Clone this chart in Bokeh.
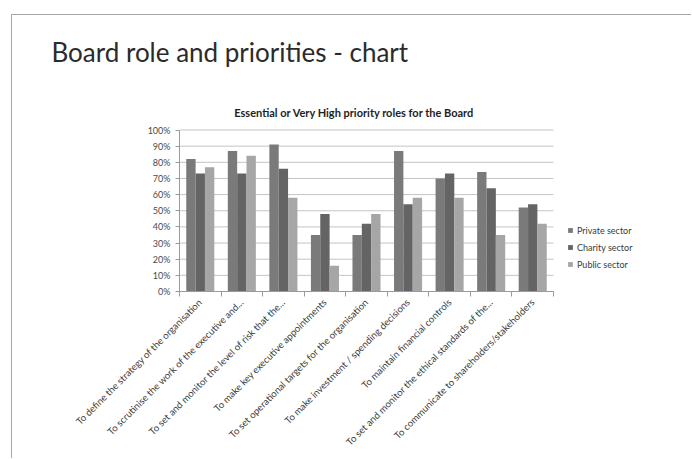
import numpy as np
from bokeh.plotting import figure
from bokeh.models import (Legend, LegendItem, NumeralTickFormatter, FixedTicker,
                          Range1d, Title, Label)
from bokeh.embed import file_html
from bokeh.resources import INLINE

# ---- data ----
categories = [
    "To define the strategy of the organisation",
    "To scrutinise the work of the executive and...",
    "To set and monitor the level of risk that the...",
    "To make key executive appointments",
    "To set operational targets for the organisation",
    "To make investment / spending decisions",
    "To maintain financial controls",
    "To set and monitor the ethical standards of the...",
    "To communicate to shareholders/stakeholders",
]
private_sector = [0.82, 0.87, 0.91, 0.35, 0.35, 0.87, 0.70, 0.74, 0.52]
charity_sector = [0.73, 0.73, 0.76, 0.48, 0.42, 0.54, 0.73, 0.64, 0.54]
public_sector = [0.77, 0.84, 0.58, 0.16, 0.48, 0.58, 0.58, 0.35, 0.42]
series_names = ["Private sector", "Charity sector", "Public sector"]
y_ticks = [0.0, 0.1, 0.2, 0.3, 0.4, 0.5, 0.6, 0.7, 0.8, 0.9, 1.0]

main_title = "Board role and priorities - chart"
chart_title = "Essential or Very High priority roles for the Board"

FONT = "Lato"
colors = ["#7a7a7a", "#646464", "#a6a6a6"]

n = len(categories)
centers = np.arange(n) + 0.5
edges = list(np.arange(n + 1).astype(float))

# frame: bars area spans 0..n horizontally; extra room on the right for the legend,
# extra room on top for the chart title
x_end = n * 513 / 374.0
y_end = 213 / 161.5

p = figure(width=680, height=444, x_range=Range1d(0, x_end), y_range=Range1d(0, y_end),
           output_backend="svg", toolbar_location=None,
           min_border_left=167, min_border_right=0,
           min_border_top=63, min_border_bottom=168)
p.margin = (14, 0, 0, 11)
p.styles = {"border-top": "1px solid #a8a8a8", "border-left": "1px solid #a8a8a8"}
p.outline_line_color = None
p.background_fill_color = "white"
p.border_fill_color = "white"

# horizontal gridlines limited to the plot area
p.xgrid.grid_line_color = None
p.ygrid.grid_line_color = None
p.segment(x0=[0] * len(y_ticks), x1=[n] * len(y_ticks), y0=y_ticks, y1=y_ticks,
          line_color="#c4c4c4", line_width=1)

bw = 0.225
renderers = []
for i, (vals, col) in enumerate(zip([private_sector, charity_sector, public_sector], colors)):
    r = p.vbar(x=centers + (i - 1) * bw, top=vals, width=bw, fill_color=col,
               line_color=None)
    renderers.append(r)

# y axis
p.yaxis.ticker = FixedTicker(ticks=y_ticks)
p.yaxis.bounds = (0, 1)
p.yaxis.formatter = NumeralTickFormatter(format="0%")
p.yaxis.major_label_text_font = FONT
p.yaxis.major_label_text_font_size = "9px"
p.yaxis.major_label_text_color = "#4a4a4a"
p.yaxis.axis_line_color = "#9a9a9a"
p.yaxis.major_tick_line_color = "#9a9a9a"
p.yaxis.major_tick_out = 4
p.yaxis.major_tick_in = 0
p.yaxis.minor_tick_line_color = None
p.yaxis.major_label_standoff = 5

# x axis
p.xaxis.ticker = FixedTicker(ticks=list(centers), minor_ticks=edges)
p.xaxis.bounds = (0, n)
p.xaxis.major_label_overrides = {float(c): lab for c, lab in zip(centers, categories)}
p.xaxis.major_label_orientation = np.pi / 4
p.xaxis.major_label_text_font = FONT
p.xaxis.major_label_text_font_size = "9.6px"
p.xaxis.major_label_text_color = "#3a3a3a"
p.xaxis.major_tick_line_color = None
p.xaxis.minor_tick_line_color = "#9a9a9a"
p.xaxis.minor_tick_out = 5
p.xaxis.minor_tick_in = 0
p.xaxis.axis_line_color = "#9a9a9a"
p.xaxis.major_label_standoff = 3

# legend
legend = Legend(items=[LegendItem(label=nm, renderers=[r]) for nm, r in zip(series_names, renderers)],
                location=(388, 21), glyph_width=6, glyph_height=6,
                label_text_font=FONT, label_text_font_size="9px",
                label_text_color="#3a3a3a", label_height=12, spacing=5,
                padding=0, margin=0, label_standoff=4,
                border_line_color=None, background_fill_alpha=0)
p.add_layout(legend)

# chart title (inside frame, screen units relative to frame)
p.add_layout(Label(x=175, y=179, x_units="screen", y_units="screen",
                   text=chart_title, text_font=FONT, text_font_size="11px",
                   text_font_style="bold", text_color="#1e1e1e",
                   text_align="center", text_baseline="middle"))

# slide title
p.title = None
p.add_layout(Title(text=main_title, align="left", offset=-128, text_font=FONT,
                   text_font_size="26px", text_font_style="normal",
                   vertical_align="middle",
                   text_color="#2b2b2b", standoff=20), "above")

open("out.html", "w").write(file_html(p, INLINE))
